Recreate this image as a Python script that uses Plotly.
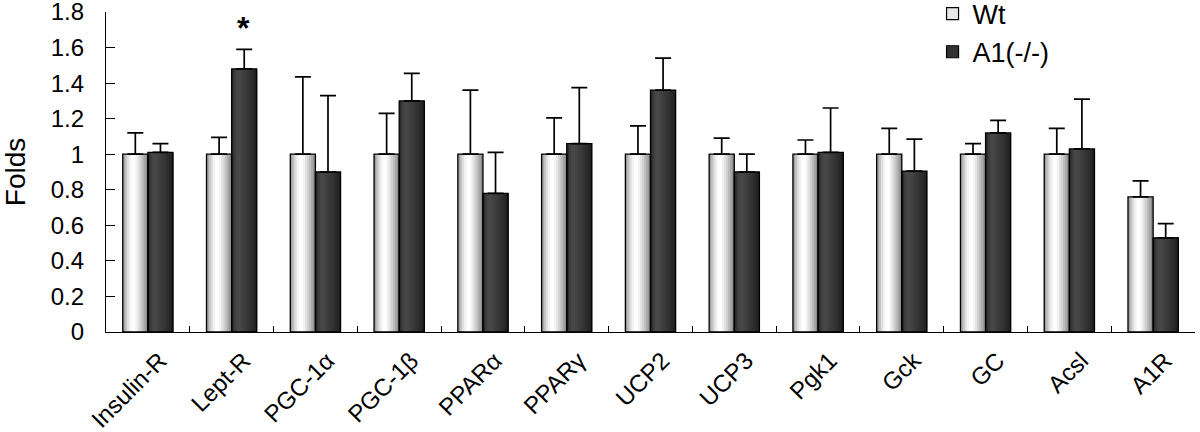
import plotly.graph_objects as go

genes = ["Insulin-R", "Lept-R", "PGC-1α", "PGC-1β", "PPARα", "PPARγ", "UCP2",
         "UCP3", "Pgk1", "Gck", "GC", "Acsl", "A1R"]

wt = [1.0, 1.0, 1.0, 1.0, 1.0, 1.0, 1.0, 1.0, 1.0, 1.0, 1.0, 1.0, 0.76]
wt_err = [0.12, 0.095, 0.435, 0.23, 0.36, 0.205, 0.16, 0.09, 0.08, 0.145, 0.06, 0.145, 0.09]

ko = [1.01, 1.48, 0.90, 1.30, 0.78, 1.06, 1.36, 0.90, 1.01, 0.905, 1.12, 1.03, 0.53]
ko_err = [0.05, 0.11, 0.43, 0.155, 0.23, 0.315, 0.18, 0.10, 0.25, 0.18, 0.07, 0.28, 0.08]

font = "Arial, Liberation Sans, sans-serif"
bw = 0.30  # bar width in category units

# cylinder-like shading, left to right, drawn as overlapping strips inside each bar
wt_shades = ["#a0a0a0", "#c2c2c2", "#dedede", "#f2f2f2", "#fdfdfd", "#ffffff",
             "#f3f3f3", "#e2e2e2", "#d0d0d0", "#bcbcbc", "#a6a6a6", "#8e8e8e"]
ko_shades = ["#2c2c2c", "#3c3c3c", "#464646", "#484848", "#444444", "#3f3f3f",
             "#3b3b3b", "#373737", "#323232", "#2d2d2d", "#272727", "#202020"]

fig = go.Figure()


def shaded_bars(vals, shades, offset):
    sw = bw / len(shades)
    for i, c in enumerate(shades):
        # each strip runs to the bar's right edge; the next one covers the rest
        fig.add_trace(go.Bar(x=genes, y=vals, offset=offset + i * sw, width=bw - i * sw,
                             marker=dict(color=c, line=dict(width=0)),
                             showlegend=False, hoverinfo="skip"))


shaded_bars(wt, wt_shades, -bw)
shaded_bars(ko, ko_shades, 0)

# outlines + error bars
for vals, err, off in [(wt, wt_err, -bw), (ko, ko_err, 0)]:
    fig.add_trace(go.Bar(
        x=genes, y=vals, offset=off, width=bw, showlegend=False,
        marker=dict(color="rgba(0,0,0,0)", line=dict(color="black", width=1.3)),
        error_y=dict(type="data", symmetric=False, array=err, arrayminus=[0] * len(vals),
                     color="black", thickness=1.7, width=8),
    ))

# legend entries
fig.add_trace(go.Bar(x=[None], y=[None], name="Wt",
                     marker=dict(color="#e8e8e8", line=dict(color="black", width=1.2))))
fig.add_trace(go.Bar(x=[None], y=[None], name="A1(-/-)",
                     marker=dict(color="#333333", line=dict(color="black", width=1.2))))

# significance mark above Lept-R knockout bar
fig.add_annotation(x="Lept-R", y=1.71, text="<b>*</b>", showarrow=False,
                   xshift=12, font=dict(size=32, color="black", family=font))

fig.update_layout(
    width=1200, height=432,
    margin=dict(l=106, r=5, t=12, b=100, autoexpand=False),
    plot_bgcolor="white", paper_bgcolor="white",
    barmode="overlay",
    font=dict(family=font, color="black"),
    showlegend=True,
    legend=dict(x=0.759, y=1.07, xanchor="left", yanchor="top",
                font=dict(size=27), bgcolor="rgba(0,0,0,0)",
                itemwidth=30, tracegroupgap=0),
)
fig.update_xaxes(
    showline=True, linecolor="black", linewidth=1.2, automargin=False,
    ticks="inside", tickson="boundaries", ticklen=6, tickcolor="black",
    tickangle=-45, tickfont=dict(size=24), ticklabelshift=12, ticklabelstandoff=4,
)
fig.update_yaxes(
    range=[0, 1.8], dtick=0.2, tickformat="~g", automargin=False,
    showline=True, linecolor="black", linewidth=1.2, showgrid=False, zeroline=False,
    ticks="inside", ticklen=9, tickcolor="black", tickfont=dict(size=24),
    ticklabelstandoff=16, ticklabeloverflow="allow",
    title=dict(text="Folds", font=dict(size=28), standoff=28),
)

# the page body has a default 8px margin; drop it so the figure fills the window
fig.write_html("out.html", config={"displayModeBar": False},
               post_script="document.body.style.margin='0';")
